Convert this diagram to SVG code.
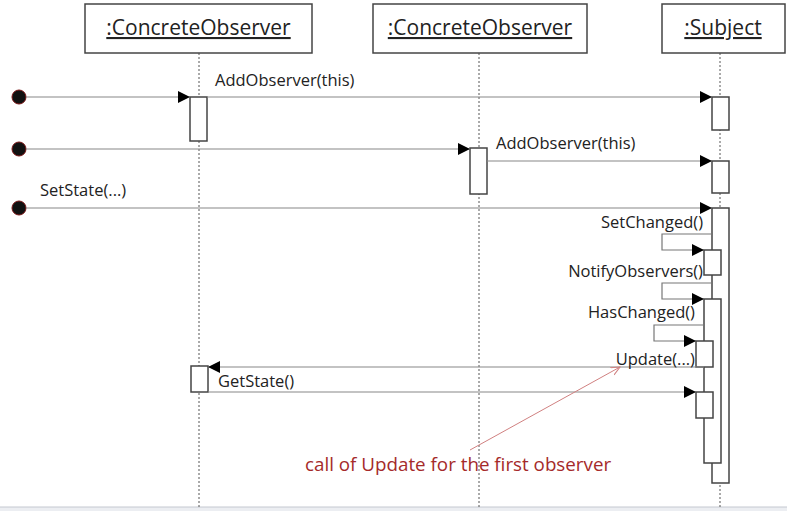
<svg xmlns="http://www.w3.org/2000/svg" width="787" height="511" viewBox="0 0 787 511">
<style>
.hdr{fill:#fff;stroke:#444;stroke-width:1.5}
.htxt{font-family:"Open Sans","Liberation Sans",sans-serif;font-size:21px;fill:#222;text-decoration:underline}
.life{stroke:#555;stroke-width:1;stroke-dasharray:2,2;fill:none}
.act{fill:#fff;stroke:#444;stroke-width:1.5}
.msg{stroke:#888;stroke-width:1.2;fill:none;marker-end:url(#arr)}
.self{stroke:#777;stroke-width:1.2;fill:none;marker-end:url(#arr)}
.lbl{font-family:"Open Sans","Liberation Sans",sans-serif;font-size:16.5px;fill:#222}
.dot{fill:#111;stroke:#7a1515;stroke-width:1}
.note{font-family:"Open Sans","Liberation Sans",sans-serif;font-size:18.8px;fill:#a52a2a}
</style>
<defs>
<marker id="arr" markerUnits="userSpaceOnUse" markerWidth="13" markerHeight="12" refX="12" refY="6" orient="auto">
<path d="M0,0 L12,6 L0,12 z" fill="#000"/>
</marker>
<marker id="open" markerUnits="userSpaceOnUse" markerWidth="10" markerHeight="10" refX="9" refY="5" orient="auto">
<path d="M0,1 L9,5 L0,9" fill="none" stroke="#d08080" stroke-width="1"/>
</marker>
</defs>
<rect x="0" y="0" width="787" height="511" fill="#fff"/>
<rect x="0" y="507" width="787" height="4" fill="#eceef2"/>
<line x1="0" y1="507" x2="787" y2="507" stroke="#c4c8d0" stroke-width="1"/>

<g id="lifelines">
<line class="life" x1="199" y1="53" x2="199" y2="507"/>
<line class="life" x1="479" y1="53" x2="479" y2="507"/>
<line class="life" x1="720" y1="53" x2="720" y2="507"/>
</g>

<g id="observer1">
<rect class="hdr" x="85" y="4" width="227" height="49"/>
<text class="htxt" x="198.5" y="35" text-anchor="middle">:ConcreteObserver</text>
</g>
<g id="observer2">
<rect class="hdr" x="373" y="4" width="214" height="49"/>
<text class="htxt" x="480" y="35" text-anchor="middle">:ConcreteObserver</text>
</g>
<g id="subject">
<rect class="hdr" x="662" y="4" width="123" height="49"/>
<text class="htxt" x="723" y="35" text-anchor="middle">:Subject</text>
</g>

<g id="activations">
<rect class="act" x="190" y="97" width="17" height="44"/>
<rect class="act" x="712" y="97" width="17" height="33"/>
<rect class="act" x="470" y="148" width="17" height="46"/>
<rect class="act" x="712" y="161" width="17" height="32"/>
<rect class="act" x="712" y="208" width="17" height="275"/>
<rect class="act" x="704" y="250" width="17" height="25"/>
<rect class="act" x="704" y="299" width="17" height="164"/>
<rect class="act" x="696" y="341" width="17" height="26"/>
<rect class="act" x="191" y="366" width="17" height="26"/>
<rect class="act" x="696" y="392" width="17" height="26"/>
</g>

<g id="connectors">
<circle class="dot" cx="19" cy="97" r="7"/>
<line class="msg" x1="26" y1="97" x2="190" y2="97"/>
<line class="msg" x1="207" y1="97" x2="712" y2="97"/>
<circle class="dot" cx="19" cy="149" r="7"/>
<line class="msg" x1="26" y1="149" x2="470" y2="149"/>
<line class="msg" x1="487" y1="161" x2="712" y2="161"/>
<circle class="dot" cx="19" cy="208" r="7"/>
<line class="msg" x1="26" y1="208" x2="712" y2="208"/>
<path class="self" d="M712,234 H662 V250 H704"/>
<path class="self" d="M712,283 H662 V299 H704"/>
<path class="self" d="M704,325 H654 V341 H696"/>
<line class="msg" x1="704" y1="367" x2="208" y2="367"/>
<line class="msg" x1="208" y1="392" x2="696" y2="392"/>
<line x1="470" y1="450" x2="620" y2="367" stroke="#d08080" stroke-width="1" marker-end="url(#open)"/>
</g>

<g id="labels">
<text class="lbl" x="215" y="86">AddObserver(this)</text>
<text class="lbl" x="496" y="149">AddObserver(this)</text>
<text class="lbl" x="40" y="196">SetState(...)</text>
<text class="lbl" x="703" y="228" text-anchor="end">SetChanged()</text>
<text class="lbl" x="703" y="277" text-anchor="end">NotifyObservers()</text>
<text class="lbl" x="695" y="318" text-anchor="end">HasChanged()</text>
<text class="lbl" x="695" y="365" text-anchor="end">Update(...)</text>
<text class="lbl" x="218" y="387">GetState()</text>
<text class="note" x="305" y="471">call of Update for the first observer</text>
</g>
</svg>
